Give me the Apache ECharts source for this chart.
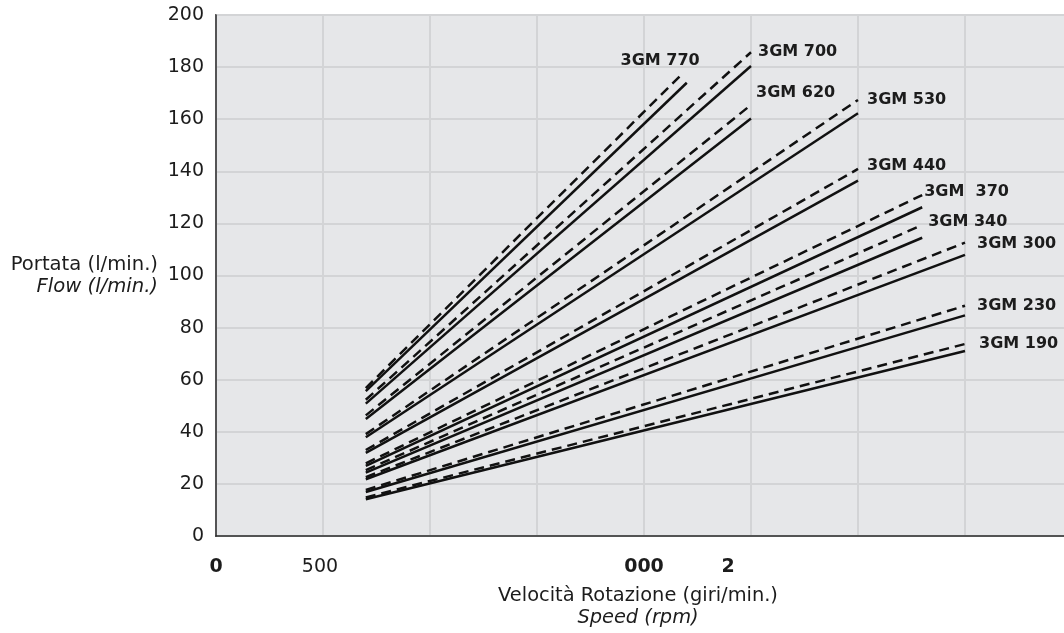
<!DOCTYPE html>
<html>
<head>
<meta charset="utf-8">
<script src="https://cdn.jsdelivr.net/npm/echarts@6/dist/echarts.min.js"></script>
<style>
html,body{margin:0;padding:0;background:#fff;}
#chart{width:1064px;height:633px;}
</style>
</head>
<body>
<div id="chart"></div>
<script>
// ---- data ----
const models = ['3GM 190','3GM 230','3GM 300','3GM 340','3GM  370','3GM 440','3GM 530','3GM 620','3GM 700','3GM 770'];
const startSpeed = 700;
const endSpeed = [3500, 3500, 3500, 3300, 3300, 3000, 3000, 2500, 2500, 2200];
const dashedEndSpeed = [3500, 3500, 3500, 3300, 3300, 3000, 3000, 2500, 2500, 2180];
const solidStart = [14.1, 16.9, 21.8, 24.3, 26.9, 31.9, 37.9, 44.9, 50.8, 55.6];
const solidEnd = [71.0, 84.7, 107.9, 114.5, 126.2, 136.4, 162.3, 160.3, 180.4, 174.0];
const dashedStart = [14.8, 17.7, 22.6, 25.3, 27.9, 33.0, 39.1, 46.3, 52.3, 56.8];
const dashedEnd = [73.7, 88.4, 112.6, 119.4, 130.9, 140.9, 167.4, 165.5, 185.7, 177.5];
const xTickLabels = {0: '{b|0}', 500: '{n|500}', 2000: '{b|000}', 2500: '{s|2}'};
const yTicks = [0, 20, 40, 60, 80, 100, 120, 140, 160, 180, 200];

// ---- styles ----
const FONT = 'DejaVu Sans';
const TXT = '#1c1c1c';
const labelOffsets = [[14,0],[12,0],[12,1],[6,-3],[2,-3],[9,-3],[9,0],[5,-12],[7,0],[-62,-13]];

const series = [];
models.forEach((m, i) => {
  series.push({
    type: 'line', symbol: 'none', silent: true,
    data: [[startSpeed, solidStart[i]], [endSpeed[i], solidEnd[i]]],
    lineStyle: {color: '#111', width: 2.5}
  });
  series.push({
    type: 'line', symbol: 'none', showSymbol: true, silent: true,
    data: [[startSpeed, dashedStart[i]], {
      value: [dashedEndSpeed[i], dashedEnd[i]],
      symbol: 'circle', symbolSize: 0,
      label: {show: true, position: 'right', distance: 0, offset: labelOffsets[i],
        formatter: m, fontFamily: FONT, fontWeight: 'bold', fontSize: 16, color: TXT}
    }],
    lineStyle: {color: '#111', width: 2.5, type: [10, 6]}
  });
});

const chart = echarts.init(document.getElementById('chart'), null, {renderer: 'canvas'});
chart.setOption({
  animation: false,
  backgroundColor: '#ffffff',
  textStyle: {fontFamily: FONT},
  grid: {left: 216, top: 15, right: -8, bottom: 97, show: true,
    containLabel: false, outerBoundsMode: 'none',
    backgroundColor: '#e6e7e9', borderColor: '#2a2a2a', borderWidth: 1.5},
  xAxis: {
    type: 'value', min: 0, max: 4000, interval: 500,
    axisLine: {show: true, onZero: false, lineStyle: {color: '#2a2a2a', width: 1.5}},
    axisTick: {show: false},
    splitLine: {show: true, lineStyle: {color: '#d3d4d6', width: 2}},
    axisLabel: {
      margin: 22, fontSize: 19, color: TXT, fontFamily: FONT,
      formatter: v => xTickLabels[v] || '',
      rich: {
        b: {fontWeight: 'bold', fontSize: 19, color: TXT, fontFamily: FONT},
        n: {fontWeight: 'normal', fontSize: 19, color: TXT, fontFamily: FONT, padding: [0, 6, 0, 0]},
        s: {fontWeight: 'bold', fontSize: 19, color: TXT, fontFamily: FONT, padding: [0, 46, 0, 0]}
      }
    },
    name: '{a|Velocità Rotazione (giri/min.)}\n{i|Speed (rpm)}',
    nameLocation: 'middle', nameGap: 49,
    nameTextStyle: {
      padding: [0, 12, 0, 0],
      rich: {
        a: {fontSize: 19.4, color: TXT, fontFamily: FONT, lineHeight: 22, align: 'center'},
        i: {fontSize: 19.4, color: TXT, fontFamily: FONT, fontStyle: 'italic', lineHeight: 22, align: 'center'}
      }
    }
  },
  yAxis: {
    type: 'value', min: 0, max: 200, interval: 20,
    axisLine: {show: true, lineStyle: {color: '#2a2a2a', width: 1.5}},
    axisTick: {show: false},
    splitLine: {show: true, lineStyle: {color: '#d3d4d6', width: 2}},
    axisLabel: {margin: 12, fontSize: 19, color: TXT, fontFamily: FONT,
      formatter: v => yTicks.indexOf(v) >= 0 ? String(v) : ''},
    name: '{a|Portata (l/min.)}\n{i|Flow (l/min.)}',
    nameLocation: 'middle', nameRotate: 0, nameGap: 58,
    nameTextStyle: {
      align: 'right',
      rich: {
        a: {fontSize: 19.6, color: TXT, fontFamily: FONT, lineHeight: 22, align: 'right'},
        i: {fontSize: 19.6, color: TXT, fontFamily: FONT, fontStyle: 'italic', lineHeight: 22, align: 'right'}
      }
    }
  },
  series: series
});
</script>
</body>
</html>
